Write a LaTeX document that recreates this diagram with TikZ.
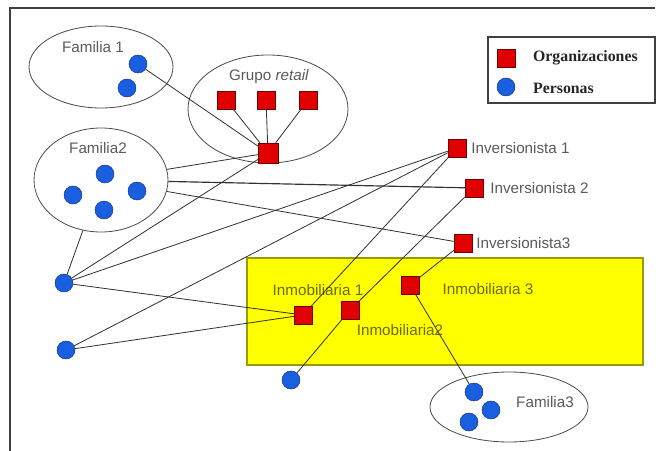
\documentclass[tikz,border=0pt]{standalone}
\usepackage{fontspec}
\setmainfont{Liberation Sans}
\newfontfamily\legfont{Liberation Serif}
\usetikzlibrary{shapes.geometric}
\definecolor{orgred}{HTML}{E00000}
\definecolor{orgedge}{HTML}{700000}
\definecolor{persblue}{HTML}{1A5FE0}
\definecolor{persedge}{HTML}{0A2A80}
\definecolor{boxyellow}{HTML}{FFFF00}
\definecolor{boxedge}{HTML}{9A9A00}
\definecolor{labgray}{HTML}{5A5A5A}
\definecolor{labolive}{HTML}{6A6A00}

\begin{document}
\begin{tikzpicture}[x=0.03cm, y=-0.03cm,
    org/.style={draw=orgedge, fill=orgred, minimum size=0.54cm, inner sep=0pt},
    pers/.style={circle, draw=persedge, fill=persblue, minimum size=0.54cm, inner sep=0pt},
    group/.style={ellipse, draw=black!70, line width=0.7pt, inner sep=0pt},
    lab/.style={text=labgray, font=\fontsize{13}{15}\selectfont, inner sep=1pt},
    leglab/.style={anchor=west, text=black!85, font=\legfont\bfseries\fontsize{13.5}{15}\selectfont},
    link/.style={black!80, line width=0.7pt}]
    \useasboundingbox (0,0) rectangle (661,451);
    \draw[line width=1.5pt, black!75] (10,451) -- (10,8) -- (655,8);

    % inmobiliarias block
    \draw[fill=boxyellow, draw=boxedge, line width=1pt] (247,258) rectangle (643,365);

    % groups
    \node[group, minimum width=4.32cm, minimum height=2.46cm] (fam1) at (101,67) {};
    \node[group, minimum width=4.8cm, minimum height=3.24cm] (retail) at (268,109) {};
    \node[group, minimum width=4.02cm, minimum height=3.12cm] (fam2) at (101,180) {};
    \node[group, minimum width=4.74cm, minimum height=2.1cm] (fam3) at (509,407) {};
    \node[lab] (fam1lab) at (93,47) {Familia 1};
    \node[lab] (retaillab) at (269,77) {Grupo \textit{retail}};
    \node[lab] (fam2lab) at (98,148) {Familia2};
    \node[lab] (fam3lab) at (545,402) {Familia3};

    % legend
    \draw[draw=black!75, line width=1pt] (488,37) rectangle (655,103);
    \node[org] (legorg) at (506,58) {};
    \node[pers] (legpers) at (506,87) {};
    \node[leglab] (legorglab) at (529,58) {Organizaciones};
    \node[leglab] (legperslab) at (529,88) {Personas};

    % personas
    \node[pers] (f1a) at (138,64) {};
    \node[pers] (f1b) at (127,88) {};
    \node[pers] (f2a) at (105,174) {};
    \node[pers] (f2b) at (73,195) {};
    \node[pers] (f2c) at (104,210) {};
    \node[pers] (f2d) at (137,191) {};
    \node[pers] (pa) at (64,283) {};
    \node[pers] (pb) at (66,350) {};
    \node[pers] (pc) at (291,380) {};
    \node[pers] (f3a) at (474,392) {};
    \node[pers] (f3b) at (491,410) {};
    \node[pers] (f3c) at (469,422) {};

    % organizaciones
    \node[org] (r1) at (226,100) {};
    \node[org] (r2) at (266,100) {};
    \node[org] (r3) at (308,100) {};
    \node[org, minimum size=0.6cm] (cen) at (268,153) {};
    \node[org] (inv1) at (457,148) {};
    \node[org] (inv2) at (474,188) {};
    \node[org] (inv3) at (463,243) {};
    \node[org] (inm1) at (303,315) {};
    \node[org] (inm2) at (350,310) {};
    \node[org] (inm3) at (410,285) {};
    \node[lab, anchor=west] (inv1lab) at (470,148) {Inversionista 1};
    \node[lab, anchor=west] (inv2lab) at (489,188) {Inversionista 2};
    \node[lab, anchor=west] (inv3lab) at (475,243) {Inversionista3};
    \node[lab, text=labolive] (inm1lab) at (318,290) {Inmobiliaria 1};
    \node[lab, text=labolive] (inm2lab) at (400,330) {Inmobiliaria2};
    \node[lab, text=labolive] (inm3lab) at (488,289) {Inmobiliaria 3};

    % vinculos
    \draw[link] (r1) -- (cen);
    \draw[link] (r2) -- (cen);
    \draw[link] (r3) -- (cen);
    \draw[link] (f1a) -- (cen);
    \draw[link] (fam2) -- (cen);
    \draw[link, line width=1pt] (fam2) -- (inv2);
    \draw[link] (fam2) -- (inv3);
    \draw[link] (fam2) -- (pa);
    \draw[link] (pa) -- (cen);
    \draw[link] (pa) -- (inv1);
    \draw[link] (pa) -- (inm1);
    \draw[link] (pb) -- (inv1);
    \draw[link] (pb) -- (inm1);
    \draw[link] (inv1) -- (inm1);
    \draw[link] (inv2) -- (inm2);
    \draw[link] (inm2) -- (pc);
    \draw[link] (inv3) -- (inm3);
    \draw[link] (inm3) -- (f3a);
\end{tikzpicture}
\end{document}
